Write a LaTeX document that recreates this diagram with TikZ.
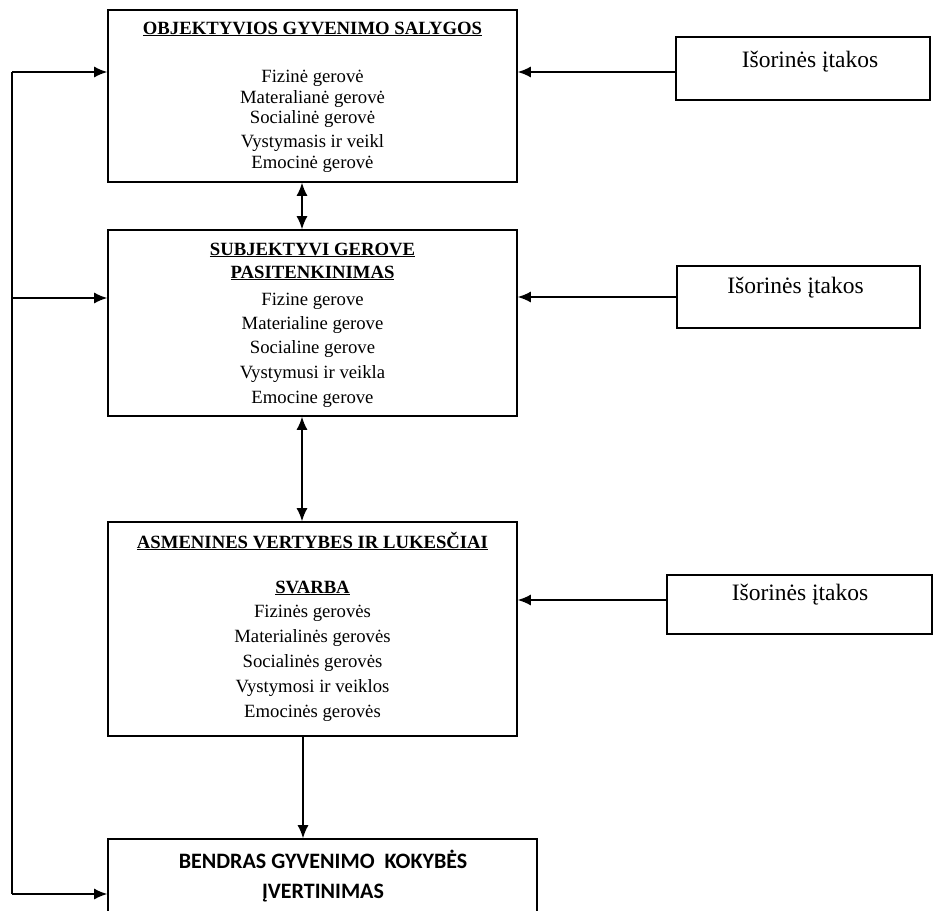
\documentclass[tikz,border=0pt]{standalone}
\usepackage{fontspec}
\setmainfont{Liberation Serif}
\newfontfamily\calfont{Carlito}
\usetikzlibrary{arrows.meta}
\begin{document}
\begin{tikzpicture}[x=1pt,y=-1pt,
 box/.style={draw=black,line width=1.7pt,rectangle,inner sep=0pt},
 txt/.style={anchor=base,inner sep=0pt,font=\fontsize{18.7}{22}\selectfont},
 ttl/.style={anchor=base,inner sep=0pt,font=\fontsize{18.7}{22}\selectfont\bfseries},
 ext/.style={anchor=base,inner sep=0pt,font=\fontsize{23.5}{27}\selectfont},
 fin/.style={anchor=base,inner sep=0pt,font=\fontsize{22}{26}\selectfont\calfont\bfseries},
 conn/.style={line width=1.3pt},
 arr/.style={conn,-{Latex[length=13pt,width=11pt]}},
 darr/.style={conn,{Latex[length=13pt,width=11pt]}-{Latex[length=13pt,width=11pt]}}]
\useasboundingbox[fill=white] (0,0) rectangle (934,910);

% main boxes
\node[box,minimum width=409,minimum height=172] (b1) at (312.5,96) {};
\node[box,minimum width=409,minimum height=186] (b2) at (312.5,323) {};
\node[box,minimum width=409,minimum height=214] (b3) at (312.5,629) {};
\node[box,minimum width=429,minimum height=91] (b4) at (322.5,884.5) {};

% side boxes
\node[box,minimum width=254,minimum height=63] (sA) at (803,68.5) {};
\node[box,minimum width=243,minimum height=62] (sB) at (798.5,297) {};
\node[box,minimum width=265,minimum height=59] (sC) at (799.5,604.5) {};

% box 1 text
\node[ttl] (t1) at (312.5,34) {\underline{OBJEKTYVIOS GYVENIMO SALYGOS}};
\foreach \t/\yy [count=\i] in {Fizinė gerovė/82, Materalianė gerovė/103, Socialinė gerovė/123, Vystymasis ir veikl/147, Emocinė gerovė/168}
  \node[txt] (o\i) at (312.5,\yy) {\t};

% box 2 text
\node[ttl] (t2a) at (312.5,255) {\underline{SUBJEKTYVI GEROVE}};
\node[ttl] (t2b) at (312.5,278) {\underline{PASITENKINIMAS}};
\foreach \t/\yy [count=\i] in {Fizine gerove/305, Materialine gerove/329, Socialine gerove/353, Vystymusi ir veikla/378, Emocine gerove/403}
  \node[txt] (s\i) at (312.5,\yy) {\t};

% box 3 text
\node[ttl] (t3a) at (312.5,548) {\underline{ASMENINES VERTYBES IR LUKESČIAI}};
\node[ttl] (t3b) at (312.5,593) {\underline{SVARBA}};
\foreach \t/\yy [count=\i] in {Fizinės gerovės/617, Materialinės gerovės/642, Socialinės gerovės/667, Vystymosi ir veiklos/692, Emocinės gerovės/717}
  \node[txt] (a\i) at (312.5,\yy) {\t};

% box 4 text
\node[fin] (t4a) at (323,868) {BENDRAS GYVENIMO\ \ KOKYBĖS};
\node[fin] (t4b) at (323,898) {ĮVERTINIMAS};

% side texts
\node[ext] (xA) at (810,67) {Išorinės įtakos};
\node[ext] (xB) at (795.5,293) {Išorinės įtakos};
\node[ext] (xC) at (800,600) {Išorinės įtakos};

% side arrows
\draw[arr] ([yshift=-3.5pt]sA.west) -- ([yshift=-3.5pt]sA.west -| b1.east);
\draw[arr] (sB.west) -- (sB.west -| b2.east);
\draw[arr] ([yshift=4.5pt]sC.west) -- ([yshift=4.5pt]sC.west -| b3.east);

% vertical arrows
\draw[darr] ([xshift=-10.5pt]b1.south) -- ([xshift=-10.5pt]b2.north);
\draw[darr] ([xshift=-10.5pt]b2.south) -- ([xshift=-10.5pt]b3.north);
\draw[arr] ([xshift=-9.5pt]b3.south) -- ([xshift=-9.5pt]b3.south |- b4.north);

% feedback line on the left
\coordinate (L1) at (12,72);
\coordinate (L2) at (12,298);
\coordinate (L3) at (12,894);
\draw[conn] (L1) -- (L3);
\draw[arr] (L1) -- (L1 -| b1.west);
\draw[arr] (L2) -- (L2 -| b2.west);
\draw[arr] (L3) -- (L3 -| b4.west);
\end{tikzpicture}
\end{document}
